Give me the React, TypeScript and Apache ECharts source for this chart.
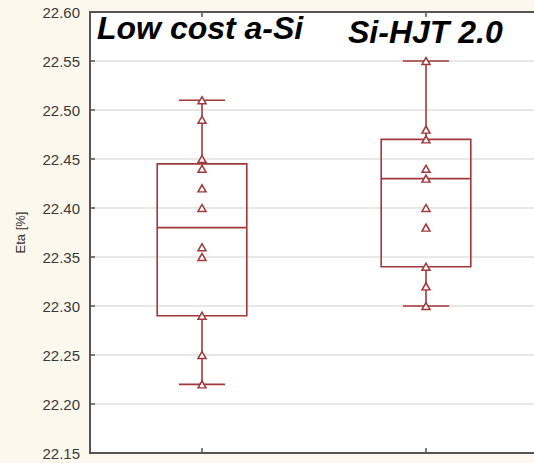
import React, { useEffect, useRef } from "react";
import * as echarts from "echarts";

const categories = ["Low cost a-Si", "Si-HJT 2.0"];
const boxMin = [22.22, 22.3];
const boxQ1 = [22.29, 22.34];
const boxMedian = [22.38, 22.43];
const boxQ3 = [22.445, 22.47];
const boxMax = [22.51, 22.55];
const pointsLowCost = [22.51, 22.49, 22.45, 22.44, 22.42, 22.4, 22.36, 22.35, 22.29, 22.25, 22.22];
const pointsHJT = [22.55, 22.48, 22.47, 22.44, 22.43, 22.4, 22.38, 22.34, 22.32, 22.3];
const yMin = 22.15;
const yMax = 22.6;
const yInterval = 0.05;
const yName = "Eta [%]";

const RED = "#a0383a";
const AXIS = "#555555";
const FONT = "'Liberation Sans', Arial, sans-serif";

export default function App() {
  const ref = useRef<HTMLDivElement>(null);
  useEffect(() => {
    document.body.style.margin = "0";
    const chart = echarts.init(ref.current!, undefined, { renderer: "svg" });
    const boxData = categories.map((_, i) => [i, boxMin[i], boxQ1[i], boxMedian[i], boxQ3[i], boxMax[i]]);
    const scatterData = [
      ...pointsLowCost.map((v) => [0, v]),
      ...pointsHJT.map((v) => [1, v]),
    ];
    const axisCommon = {
      type: "category" as const,
      data: categories,
      axisLine: { show: true, lineStyle: { color: AXIS, width: 2 } },
      axisTick: { show: true, inside: true, alignWithLabel: true, length: 5, lineStyle: { color: AXIS, width: 1.5 } },
      axisLabel: { show: false },
      splitLine: { show: false },
    };
    chart.setOption({
      animation: false,
      backgroundColor: "#fcf8ee",
      grid: {
        left: 90,
        top: 12,
        bottom: 10,
        width: 448,
        outerBoundsMode: "none",
        containLabel: false,
        show: true,
        backgroundColor: "#ffffff",
        borderColor: AXIS,
        borderWidth: 2,
      },
      graphic: [
        {
          type: "text",
          x: 97,
          y: 28,
          style: {
            text: categories[0],
            font: `italic bold 32px ${FONT}`,
            fill: "#000",
            verticalAlign: "middle",
          },
          z: 100,
        },
        {
          type: "text",
          x: 348,
          y: 32,
          style: {
            text: categories[1],
            font: `italic bold 32px ${FONT}`,
            fill: "#000",
            verticalAlign: "middle",
          },
          z: 100,
        },
      ],
      xAxis: [
        { ...axisCommon, position: "bottom" },
        { ...axisCommon, position: "top" },
      ],
      yAxis: {
        type: "value",
        min: yMin,
        max: yMax,
        interval: yInterval,
        name: yName,
        nameLocation: "middle",
        nameGap: 63,
        nameRotate: 90,
        nameTextStyle: { color: "#333", fontSize: 13, fontFamily: FONT },
        axisLine: { show: true, lineStyle: { color: AXIS, width: 2 } },
        axisTick: { show: true, inside: true, length: 5, lineStyle: { color: AXIS, width: 1.5 } },
        axisLabel: {
          color: "#3a3a3a",
          fontSize: 15,
          fontFamily: FONT,
          margin: 10,
          formatter: (v: number) => v.toFixed(2),
        },
        splitLine: { show: true, lineStyle: { color: "#e0e0e0", width: 1.5 } },
      },
      series: [
        {
          type: "custom",
          xAxisIndex: 0,
          encode: { x: 0, y: [1, 2, 3, 4, 5] },
          data: boxData,
          z: 2,
          renderItem: (params: any, api: any) => {
            const i = api.value(0);
            const band = api.size([1, 0])[0];
            const half = band * 0.2;
            const capHalf = band * 0.103;
            const pMin = api.coord([i, api.value(1)]);
            const pQ1 = api.coord([i, api.value(2)]);
            const pMed = api.coord([i, api.value(3)]);
            const pQ3 = api.coord([i, api.value(4)]);
            const pMax = api.coord([i, api.value(5)]);
            const cx = pMed[0];
            const style = { stroke: RED, lineWidth: 1.6, fill: "none" };
            return {
              type: "group",
              children: [
                { type: "line", shape: { x1: cx, y1: pQ3[1], x2: cx, y2: pMax[1] }, style },
                { type: "line", shape: { x1: cx, y1: pQ1[1], x2: cx, y2: pMin[1] }, style },
                { type: "line", shape: { x1: cx - capHalf, y1: pMax[1], x2: cx + capHalf, y2: pMax[1] }, style },
                { type: "line", shape: { x1: cx - capHalf, y1: pMin[1], x2: cx + capHalf, y2: pMin[1] }, style },
                {
                  type: "rect",
                  shape: { x: cx - half, y: pQ3[1], width: 2 * half, height: pQ1[1] - pQ3[1] },
                  style: { ...style, fill: "transparent" },
                },
                { type: "line", shape: { x1: cx - half, y1: pMed[1], x2: cx + half, y2: pMed[1] }, style },
              ],
            };
          },
        },
        {
          type: "scatter",
          xAxisIndex: 0,
          data: scatterData,
          symbol: "triangle",
          symbolSize: [8, 7],
          z: 3,
          itemStyle: { color: "#ffffff", borderColor: RED, borderWidth: 1.5, opacity: 1 },
        },
      ],
    });
    return () => chart.dispose();
  }, []);
  return <div ref={ref} style={{ width: 534, height: 463, background: "#fcf8ee" }} />;
}
